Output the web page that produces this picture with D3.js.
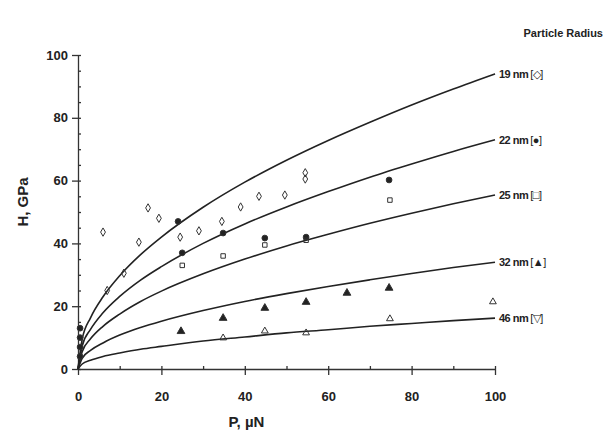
<!DOCTYPE html>
<html>
<head>
<meta charset="utf-8">
<script src="https://cdn.jsdelivr.net/npm/d3@7"></script>
<style>
  body { margin: 0; background: #fff; }
  text { font-family: "Liberation Sans", Arial, sans-serif; font-weight: bold; fill: #222; }
</style>
</head>
<body>
<script>
// fitted curves at these loads
var curveP = [0, 1, 3, 6, 10, 15, 20, 30, 40, 50, 60, 70, 80, 90, 100];
var curve19 = [0, 9.4, 16.3, 23.0, 29.7, 36.4, 42.0, 51.5, 59.5, 66.5, 72.8, 78.6, 84.1, 89.2, 94];
var curve22 = [0, 7.3, 12.6, 17.9, 23.1, 28.3, 32.6, 40.0, 46.2, 51.6, 56.5, 61.1, 65.3, 69.3, 73];
var curve25 = [0, 5.5, 9.6, 13.6, 17.5, 21.5, 24.8, 30.3, 35.0, 39.2, 42.9, 46.4, 49.6, 52.6, 55.4];
var curve32 = [0, 3.4, 5.9, 8.3, 10.8, 13.2, 15.2, 18.6, 21.5, 24.0, 26.3, 28.4, 30.4, 32.3, 34];
var curve46 = [0, 1.6, 2.8, 4.0, 5.1, 6.3, 7.2, 8.9, 10.2, 11.5, 12.5, 13.6, 14.5, 15.4, 16.2];

// measured points
var p19 = [6, 7, 11, 14.6, 16.8, 19.4, 24.5, 29, 34.5, 39, 43.4, 49.6, 54.5, 54.5];
var h19 = [43.6, 25, 30.5, 40.4, 51.3, 48, 42, 44, 47, 51.6, 55, 55.4, 60.5, 62.5];
var p22 = [0.5, 0.5, 0.5, 0.5, 24, 25, 34.8, 44.8, 54.7, 74.6];
var h22 = [4, 7, 10, 13, 47, 37, 43.3, 41.7, 42, 60.2];
var p25 = [25, 34.8, 44.8, 54.7, 74.8];
var h25 = [33, 36, 39.5, 41, 53.8];
var p32 = [24.7, 34.8, 44.8, 54.7, 64.5, 74.6];
var h32 = [12, 16.2, 19.4, 21.3, 24.2, 25.8];
var p46 = [34.8, 44.8, 54.7, 74.8, 99.5];
var h46 = [9.9, 12.1, 11.5, 16, 21.4];

var xTicks = [0, 20, 40, 60, 80, 100];
var yTicks = [0, 20, 40, 60, 80, 100];
var labels = ["19 nm", "22 nm", "25 nm", "32 nm", "46 nm"];
var symbols = ["\u25C7", "\u25CF", "\u25A1", "\u25B2", "\u25BD"];

var margin = {left: 78, right: 112, top: 55, bottom: 63};
var width = 607 - margin.left - margin.right;
var height = 432 - margin.top - margin.bottom;

var svg = d3.select("body")
  .append("svg")
  .attr("width", 607)
  .attr("height", 432);

var g = svg.append("g")
  .attr("transform", "translate(" + margin.left + "," + margin.top + ")");

var x = d3.scaleLinear().domain([0, 100]).range([0, width]);
var y = d3.scaleLinear().domain([0, 100]).range([height, 0]);

// minor ticks (inside)
g.append("g")
  .attr("transform", "translate(0," + height + ")")
  .call(d3.axisTop(x).tickValues(d3.range(0, 101, 10)).tickSize(3).tickFormat(""))
  .call(function(s) { s.select(".domain").remove(); });
g.append("g")
  .call(d3.axisRight(y).tickValues(d3.range(0, 101, 5)).tickSize(3).tickFormat(""))
  .call(function(s) { s.select(".domain").remove(); });

var xAxis = g.append("g")
  .attr("class", "x axis")
  .attr("transform", "translate(0," + height + ")")
  .call(d3.axisBottom(x).tickValues(xTicks).tickSize(6).tickSizeOuter(0).tickPadding(17));
xAxis.selectAll("text").attr("font-size", "13px");

var yAxis = g.append("g")
  .attr("class", "y axis")
  .call(d3.axisLeft(y).tickValues(yTicks).tickSize(6).tickSizeOuter(0).tickPadding(4));
yAxis.selectAll("text").attr("font-size", "13px");

g.selectAll(".domain, .tick line").attr("stroke", "#333").attr("stroke-width", 1.3);

g.append("text")
  .attr("x", width / 2 - 40)
  .attr("y", height + 58)
  .attr("font-size", "15px")
  .attr("text-anchor", "middle")
  .text("P, \u00B5N");

g.append("text")
  .attr("x", -(height / 2) + 10)
  .attr("y", -50)
  .attr("font-size", "15px")
  .attr("text-anchor", "middle")
  .attr("transform", "rotate(-90)")
  .text("H, GPa");

svg.append("text")
  .attr("x", 603)
  .attr("y", 37)
  .attr("font-size", "11px")
  .attr("text-anchor", "end")
  .attr("fill", "#555")
  .text("Particle Radius");

var line = d3.line()
  .x(function(d) { return x(d[0]); })
  .y(function(d) { return y(d[1]); })
  .curve(d3.curveMonotoneX);

var curves = [curve19, curve22, curve25, curve32, curve46];
curves.forEach(function(c, i) {
  var pts = curveP.map(function(p, j) { return [p, c[j]]; });
  g.append("path")
    .datum(pts)
    .attr("d", line)
    .attr("fill", "none")
    .attr("stroke", "#222")
    .attr("stroke-width", 1.6);

  var lab = g.append("text")
    .attr("x", x(100) + 4)
    .attr("y", y(c[c.length - 1]) + 4)
    .attr("font-size", "11px")
    .attr("letter-spacing", "-0.5px");
  lab.append("tspan").text(labels[i]);
  lab.append("tspan").attr("font-weight", "normal").attr("dx", 2).text("[" + symbols[i] + "]");
});

var sets = [
  {p: p19, h: h19, type: d3.symbolDiamond, fill: "none"},
  {p: p22, h: h22, type: d3.symbolCircle, fill: "#222"},
  {p: p25, h: h25, type: d3.symbolSquare, fill: "none"},
  {p: p32, h: h32, type: d3.symbolTriangle, fill: "#222"},
  {p: p46, h: h46, type: d3.symbolTriangle, fill: "none"}
];

sets.forEach(function(s) {
  g.selectAll(null)
    .data(s.p.map(function(p, j) { return [p, s.h[j]]; }))
    .enter()
    .append("path")
    .attr("transform", function(d) { return "translate(" + x(d[0]) + "," + y(d[1]) + ")"; })
    .attr("d", d3.symbol().type(s.type).size(s.fill === "none" ? 20 : 26))
    .attr("fill", s.fill)
    .attr("stroke", "#333")
    .attr("stroke-width", 1);
});
</script>
</body>
</html>
